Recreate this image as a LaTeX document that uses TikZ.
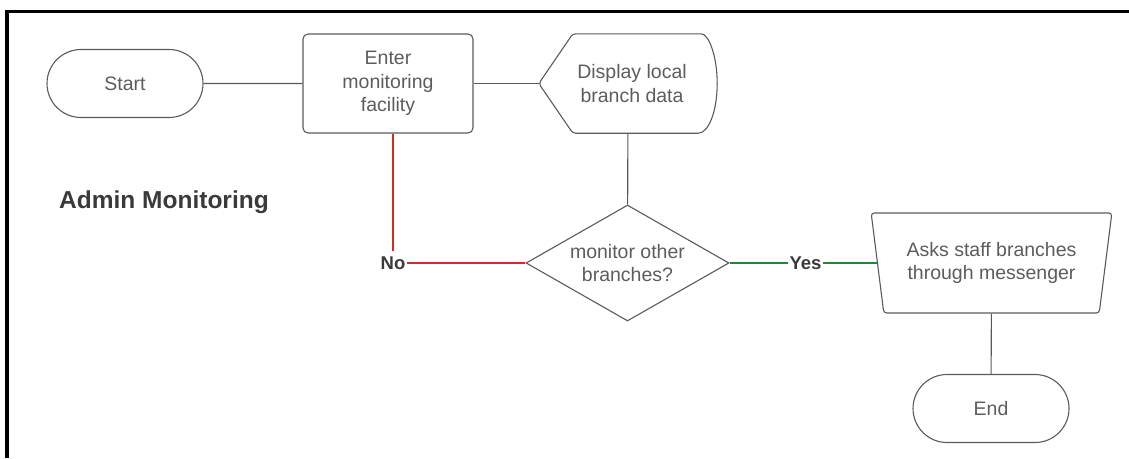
\documentclass[tikz,border=0pt]{standalone}
\usepackage{fontspec}
\setmainfont{Liberation Sans}
\usetikzlibrary{shapes.geometric,shapes.misc,calc}
\definecolor{outline}{HTML}{5A5A5A}
\definecolor{bodytext}{HTML}{5C5C5C}
\definecolor{labeltext}{HTML}{3A3A3A}
\definecolor{noline}{HTML}{D42A2A}
\definecolor{yesline}{HTML}{1E8C2E}

\begin{document}
\begin{tikzpicture}[x=1pt,y=-1pt,
  every node/.style={font=\fontsize{19.5}{23.3}\selectfont, text=bodytext,
    align=center, inner sep=0pt},
  shapeline/.style={draw=outline, line width=1.1pt},
  terminal/.style={shapeline, rounded rectangle, minimum width=156pt, minimum height=68pt},
  process/.style={shapeline, rectangle, rounded corners=5pt,
    minimum width=170pt, minimum height=99pt},
  displaybox/.style={rectangle, minimum width=178pt, minimum height=99pt},
  decision/.style={shapeline, diamond, aspect=1.75, minimum width=203pt, minimum height=116pt},
  manualop/.style={shapeline, trapezium, shape border rotate=180, trapezium angle=76.5,
    trapezium stretches=true, rounded corners=3pt, minimum width=241pt, minimum height=100pt},
  branchlabel/.style={font=\bfseries\fontsize{18.5}{20}\selectfont, text=labeltext,
    inner xsep=1pt, inner ysep=5pt},
  flow/.style={draw=outline, line width=1.1pt},
  noflow/.style={draw=noline, line width=1.8pt},
  yesflow/.style={draw=yesline, line width=1.8pt}
]
\useasboundingbox (0,0) rectangle (1129,458);

% frame along the top and left edges
\draw[line width=3.2pt, black] (7,458) -- (7,11.3) -- (1129,11.3);

% title
\node[font=\bfseries\fontsize{24.5}{28}\selectfont, text=labeltext, anchor=west]
  (title) at (59,202) {Admin Monitoring};

% nodes
\node[terminal] (start) at (125,83.5) {Start};
\node[process] (enter) at (388,83.5) {Enter\\monitoring\\facility};
\node[displaybox] (disp) at (628,83.5) {\hspace*{8pt}Display local\\\hspace*{8pt}branch data};
\node[decision] (dec) at (627.5,263) {monitor other\\branches?};
\node[manualop] (tz) at (991.5,263) {Asks staff branches\\through messenger};
\node[terminal] (end) at (991,408.5) {End};

% display shape outline: pointed left side, half-elliptic right side
\draw[shapeline, rounded corners=3pt]
  (disp.west) -- ($(disp.north west)+(34,0)$) -- ($(disp.north east)+(-19,0)$)
  [sharp corners] .. controls ($(disp.north east)+(-8.5,0)$) and ($(disp.east)+(0,-27.5)$) .. (disp.east)
  .. controls ($(disp.east)+(0,27.5)$) and ($(disp.south east)+(-8.5,0)$) .. ($(disp.south east)+(-19,0)$)
  [rounded corners=3pt] -- ($(disp.south west)+(34,0)$) -- cycle;

% branch labels
\node[branchlabel] (no) at (393,263) {No};
\node[branchlabel] (yes) at (805.5,263) {Yes};

% connectors
\draw[flow] (start) -- (enter);
\draw[flow] (enter) -- (disp);
\draw[flow] (disp) -- (dec);
\draw[noflow] (no.north |- enter.south) -- (no.north);
\draw[noflow] (no) -- (dec);
\draw[yesflow] (dec) -- (yes);
\draw[yesflow] (yes) -- (tz);
\draw[flow] (tz) -- (end);
\end{tikzpicture}
\end{document}
